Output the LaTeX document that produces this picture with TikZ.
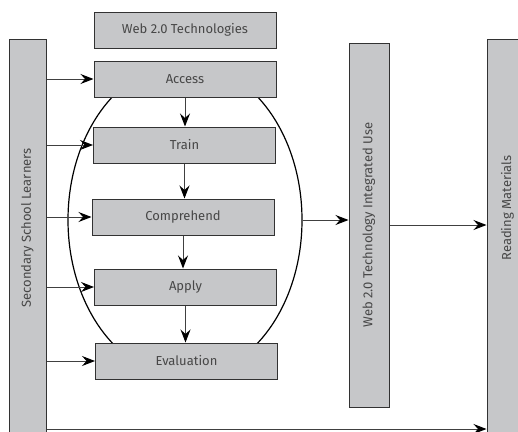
\documentclass[tikz,border=0pt]{standalone}
\usepackage{fontspec}
\setmainfont{Fira Sans}
\usetikzlibrary{arrows.meta,shapes.geometric}
\definecolor{boxgray}{RGB}{198,199,201}
\definecolor{edgegray}{RGB}{50,50,50}

\begin{document}
\begin{tikzpicture}[
    x=1pt, y=-1pt,
    stage/.style={rectangle, draw=edgegray, line width=1pt, fill=boxgray,
        minimum width=182pt, minimum height=36pt, inner sep=0pt,
        font=\fontsize{13}{15}\selectfont, text=black!72},
    pillar/.style={rectangle, draw=edgegray, line width=1pt, fill=boxgray,
        inner sep=0pt},
    vlabel/.style={rotate=90, font=\fontsize{13}{15}\selectfont, text=black!72},
    flow/.style={draw=black!75, line width=1pt,
        -{Stealth[length=13pt,width=10pt,inset=4.5pt,color=black]}}
]
    \useasboundingbox (0,0) rectangle (518,431);
    \node[ellipse, draw=black, line width=1.2pt, minimum width=234pt,
        minimum height=314pt] (cycle) at (185,220) {};
    \node[stage] (tech) at (185,30) {Web 2.0 Technologies};
    \node[stage] (access) at (185,79) {Access};
    \node[stage] (train) at (184.5,145) {Train};
    \node[stage] (comp) at (183,217) {Comprehend};
    \node[stage] (apply) at (185.5,287) {Apply};
    \node[stage] (eval) at (186.5,361) {Evaluation};
    \node[pillar, minimum width=37pt, minimum height=420pt] (learners) at (27.5,249) {};
    \node[vlabel] at (27.5,228) {Secondary School Learners};
    \node[pillar, minimum width=40pt, minimum height=364pt] (integrated) at (369,225)
        {\rotatebox{90}{\fontsize{13}{15}\selectfont\color{black!72}Web 2.0 Technology Integrated Use}};
    \node[pillar, minimum width=41pt, minimum height=420pt] (reading) at (507.5,249) {};
    \node[vlabel] at (507.5,208) {Reading Materials};
    \coordinate (low) at (0,429);
    \foreach \s in {access,train,comp,apply,eval}
        \draw[flow] (learners.east |- \s) -- (\s);
    \draw[flow] (access.south) -- (access.south |- train.north);
    \draw[flow] (train.south) -- (train.south |- comp.north);
    \draw[flow] (comp.south) -- (comp.south |- apply.north);
    \draw[flow] (apply.south) -- (apply.south |- eval.north);
    \draw[flow] (cycle.east) -- (cycle.east -| integrated.west);
    \draw[flow] (integrated.east) -- (integrated.east -| reading.west);
    \draw[flow] (learners.east |- low) -- (reading.west |- low);
\end{tikzpicture}
\end{document}
